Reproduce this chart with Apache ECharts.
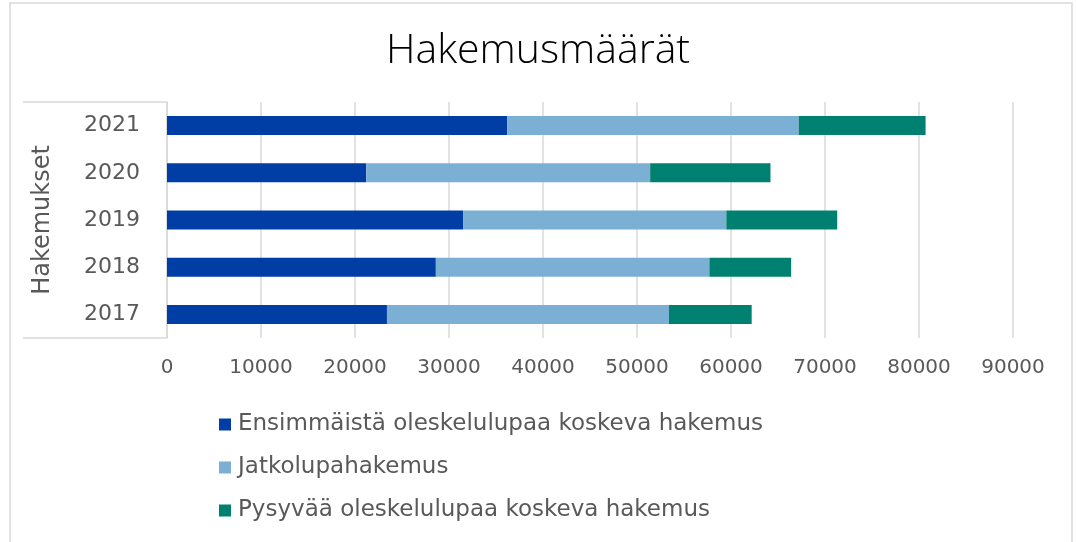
<!DOCTYPE html>
<html>
<head>
<meta charset="utf-8">
<script src="https://cdn.jsdelivr.net/npm/echarts@6/dist/echarts.min.js"></script>
<style>
html, body { margin: 0; padding: 0; background: #fff; }
#chart { width: 1076px; height: 542px; }
</style>
</head>
<body>
<div id="chart"></div>
<script>
// vuodet (alhaalta ylös)
const years = ['2017', '2018', '2019', '2020', '2021'];
const ensimmainen = [23400, 28600, 31500, 21200, 36200];
const jatkolupa = [30000, 29100, 28000, 30200, 31000];
const pysyva = [8800, 8700, 11800, 12800, 13500];
const seriesNames = [
    'Ensimmäistä oleskelulupaa koskeva hakemus',
    'Jatkolupahakemus',
    'Pysyvää oleskelulupaa koskeva hakemus'
];
const colors = ['#003da5', '#7bafd4', '#008070'];

const font = 'DejaVu Sans';
const textGray = '#595959';
const lineGray = '#d9d9d9';

const myChart = echarts.init(document.getElementById('chart'));

function bar(name, data) {
    return {
        name: name,
        type: 'bar',
        stack: 'yht',
        barWidth: 19,
        data: data
    };
}

const options = {
    color: colors,
    animation: false,
    title: {
        text: 'Hakemusmäärät',
        left: 'center',
        top: 26,
        textStyle: {
            fontFamily: 'Open Sans',
            fontWeight: 300,
            fontSize: 41,
            color: '#000'
        }
    },
    legend: {
        orient: 'vertical',
        left: 214,
        top: 408,
        icon: 'rect',
        itemWidth: 12,
        itemHeight: 12,
        itemGap: 20,
        textStyle: {
            fontFamily: font,
            fontSize: 23,
            color: textGray,
            padding: [0, 0, 0, 2]
        },
        data: seriesNames
    },
    grid: {
        left: 167,
        right: 63,
        top: 102,
        bottom: 204
    },
    xAxis: {
        type: 'value',
        min: 0,
        max: 90000,
        interval: 10000,
        axisLine: { show: false },
        axisTick: { show: false },
        axisLabel: {
            margin: 20,
            fontFamily: font,
            fontSize: 20,
            color: textGray,
            formatter: function (v) { return String(v); }
        },
        splitLine: {
            lineStyle: { color: lineGray, width: 1.5 }
        }
    },
    yAxis: {
        type: 'category',
        data: years,
        name: 'Hakemukset',
        nameLocation: 'middle',
        nameRotate: 90,
        nameGap: 112,
        nameTextStyle: {
            fontFamily: font,
            fontSize: 24,
            color: textGray
        },
        axisLine: { lineStyle: { color: lineGray, width: 1.5 } },
        axisTick: { show: false },
        axisLabel: {
            margin: 27,
            fontFamily: font,
            fontSize: 22,
            color: textGray
        }
    },
    graphic: [
        {
            type: 'rect',
            shape: { x: 10, y: 3, width: 1062, height: 560 },
            style: { fill: 'none', stroke: lineGray, lineWidth: 1.5 }
        },
        {
            type: 'line',
            shape: { x1: 23, y1: 102, x2: 167, y2: 102 },
            style: { stroke: lineGray, lineWidth: 1.5 }
        },
        {
            type: 'line',
            shape: { x1: 23, y1: 338, x2: 167, y2: 338 },
            style: { stroke: lineGray, lineWidth: 1.5 }
        }
    ],
    series: [
        bar(seriesNames[0], ensimmainen),
        bar(seriesNames[1], jatkolupa),
        bar(seriesNames[2], pysyva)
    ]
};

myChart.setOption(options);
</script>
</body>
</html>
